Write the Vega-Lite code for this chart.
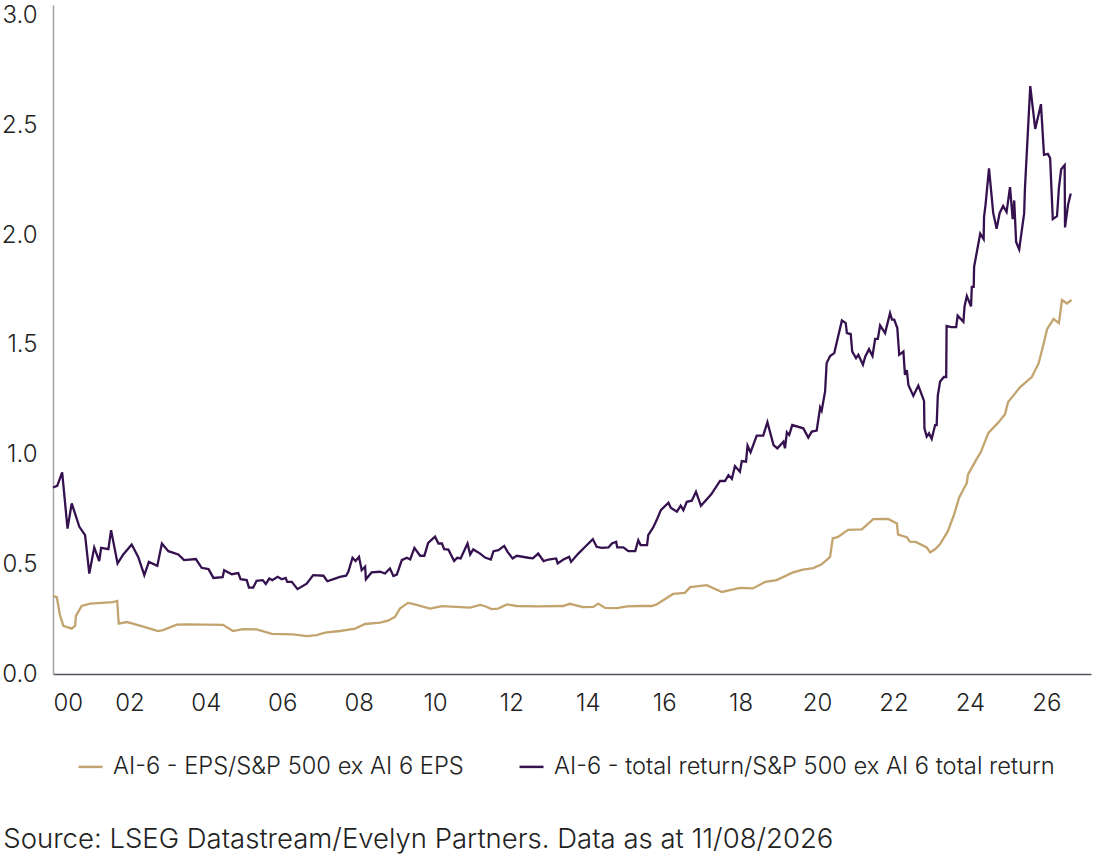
{
  "$schema": "https://vega.github.io/schema/vega-lite/v6.json",
  "width": 1038,
  "height": 669,
  "autosize": {"type": "none"},
  "padding": {"left": 53, "top": 5, "right": 2, "bottom": 182},
  "background": "white",
  "title": {
    "text": "Source: LSEG Datastream/Evelyn Partners. Data as at 11/08/2026",
    "orient": "bottom",
    "anchor": "start",
    "frame": "bounds",
    "offset": 47,
    "dx": 2,
    "font": "Inter",
    "fontSize": 27.5,
    "fontWeight": 300,
    "color": "#222222"
  },
  "datasets": {
    "eps": [
      {"t": 2000.00, "v": 0.356}, {"t": 2000.10, "v": 0.35}, {"t": 2000.18, "v": 0.27}, {"t": 2000.27, "v": 0.22},
      {"t": 2000.49, "v": 0.207}, {"t": 2000.58, "v": 0.22}, {"t": 2000.60, "v": 0.265}, {"t": 2000.75, "v": 0.31},
      {"t": 2000.97, "v": 0.321}, {"t": 2001.57, "v": 0.328}, {"t": 2001.68, "v": 0.333}, {"t": 2001.72, "v": 0.23},
      {"t": 2001.93, "v": 0.237}, {"t": 2002.09, "v": 0.23}, {"t": 2002.45, "v": 0.211}, {"t": 2002.75, "v": 0.196},
      {"t": 2002.88, "v": 0.20}, {"t": 2003.24, "v": 0.225}, {"t": 2003.50, "v": 0.226}, {"t": 2004.45, "v": 0.224},
      {"t": 2004.71, "v": 0.196}, {"t": 2004.97, "v": 0.205}, {"t": 2005.33, "v": 0.203}, {"t": 2005.73, "v": 0.183},
      {"t": 2006.28, "v": 0.181}, {"t": 2006.64, "v": 0.173}, {"t": 2006.90, "v": 0.177}, {"t": 2007.12, "v": 0.189},
      {"t": 2007.51, "v": 0.196}, {"t": 2007.91, "v": 0.207}, {"t": 2008.17, "v": 0.228}, {"t": 2008.56, "v": 0.234},
      {"t": 2008.77, "v": 0.243}, {"t": 2008.95, "v": 0.26}, {"t": 2009.08, "v": 0.298}, {"t": 2009.29, "v": 0.324},
      {"t": 2009.42, "v": 0.32}, {"t": 2009.87, "v": 0.298}, {"t": 2010.18, "v": 0.309}, {"t": 2010.92, "v": 0.303},
      {"t": 2011.18, "v": 0.315}, {"t": 2011.31, "v": 0.309}, {"t": 2011.48, "v": 0.296}, {"t": 2011.65, "v": 0.298},
      {"t": 2011.88, "v": 0.317}, {"t": 2012.14, "v": 0.31}, {"t": 2012.66, "v": 0.308}, {"t": 2013.35, "v": 0.31},
      {"t": 2013.53, "v": 0.32}, {"t": 2013.87, "v": 0.305}, {"t": 2014.14, "v": 0.306}, {"t": 2014.27, "v": 0.321},
      {"t": 2014.45, "v": 0.301}, {"t": 2014.76, "v": 0.30}, {"t": 2015.02, "v": 0.308}, {"t": 2015.37, "v": 0.31},
      {"t": 2015.67, "v": 0.31}, {"t": 2015.80, "v": 0.317}, {"t": 2016.23, "v": 0.365}, {"t": 2016.54, "v": 0.37},
      {"t": 2016.68, "v": 0.396}, {"t": 2017.11, "v": 0.405}, {"t": 2017.51, "v": 0.374}, {"t": 2017.98, "v": 0.393},
      {"t": 2018.32, "v": 0.39}, {"t": 2018.64, "v": 0.42}, {"t": 2018.94, "v": 0.428}, {"t": 2019.37, "v": 0.463},
      {"t": 2019.63, "v": 0.476}, {"t": 2019.90, "v": 0.483}, {"t": 2020.12, "v": 0.50}, {"t": 2020.34, "v": 0.534},
      {"t": 2020.41, "v": 0.618}, {"t": 2020.55, "v": 0.625}, {"t": 2020.81, "v": 0.657}, {"t": 2021.17, "v": 0.659},
      {"t": 2021.47, "v": 0.706}, {"t": 2021.86, "v": 0.707}, {"t": 2022.09, "v": 0.686}, {"t": 2022.12, "v": 0.636},
      {"t": 2022.35, "v": 0.624}, {"t": 2022.43, "v": 0.603}, {"t": 2022.58, "v": 0.602}, {"t": 2022.87, "v": 0.577},
      {"t": 2022.96, "v": 0.554}, {"t": 2023.11, "v": 0.572}, {"t": 2023.22, "v": 0.592}, {"t": 2023.42, "v": 0.65},
      {"t": 2023.59, "v": 0.729}, {"t": 2023.72, "v": 0.805}, {"t": 2023.92, "v": 0.871}, {"t": 2023.95, "v": 0.909},
      {"t": 2024.16, "v": 0.975}, {"t": 2024.29, "v": 1.013}, {"t": 2024.48, "v": 1.098}, {"t": 2024.74, "v": 1.146},
      {"t": 2024.92, "v": 1.184}, {"t": 2025.00, "v": 1.24}, {"t": 2025.31, "v": 1.307}, {"t": 2025.62, "v": 1.354},
      {"t": 2025.80, "v": 1.417}, {"t": 2025.93, "v": 1.506}, {"t": 2026.02, "v": 1.572}, {"t": 2026.19, "v": 1.619},
      {"t": 2026.33, "v": 1.60}, {"t": 2026.41, "v": 1.705}, {"t": 2026.54, "v": 1.689}, {"t": 2026.66, "v": 1.705}
    ],
    "tr": [
      {"t": 2000.00, "v": 0.85}, {"t": 2000.11, "v": 0.858}, {"t": 2000.24, "v": 0.919}, {"t": 2000.38, "v": 0.663},
      {"t": 2000.49, "v": 0.778}, {"t": 2000.69, "v": 0.671}, {"t": 2000.84, "v": 0.633}, {"t": 2000.95, "v": 0.458},
      {"t": 2001.08, "v": 0.577}, {"t": 2001.21, "v": 0.515}, {"t": 2001.26, "v": 0.575}, {"t": 2001.45, "v": 0.569},
      {"t": 2001.52, "v": 0.656}, {"t": 2001.69, "v": 0.504}, {"t": 2001.84, "v": 0.545}, {"t": 2002.06, "v": 0.59},
      {"t": 2002.23, "v": 0.534}, {"t": 2002.39, "v": 0.451}, {"t": 2002.51, "v": 0.511}, {"t": 2002.73, "v": 0.493},
      {"t": 2002.85, "v": 0.595}, {"t": 2003.02, "v": 0.56}, {"t": 2003.28, "v": 0.545}, {"t": 2003.43, "v": 0.519},
      {"t": 2003.74, "v": 0.524}, {"t": 2003.89, "v": 0.484}, {"t": 2004.07, "v": 0.478}, {"t": 2004.20, "v": 0.438},
      {"t": 2004.44, "v": 0.441}, {"t": 2004.48, "v": 0.473}, {"t": 2004.68, "v": 0.455}, {"t": 2004.85, "v": 0.46},
      {"t": 2004.91, "v": 0.432}, {"t": 2005.07, "v": 0.428}, {"t": 2005.13, "v": 0.394}, {"t": 2005.24, "v": 0.394},
      {"t": 2005.33, "v": 0.425}, {"t": 2005.49, "v": 0.428}, {"t": 2005.57, "v": 0.41}, {"t": 2005.66, "v": 0.435},
      {"t": 2005.74, "v": 0.428}, {"t": 2005.88, "v": 0.443}, {"t": 2005.99, "v": 0.432}, {"t": 2006.09, "v": 0.438},
      {"t": 2006.13, "v": 0.42}, {"t": 2006.25, "v": 0.42}, {"t": 2006.40, "v": 0.387}, {"t": 2006.64, "v": 0.412},
      {"t": 2006.81, "v": 0.451}, {"t": 2007.08, "v": 0.448}, {"t": 2007.18, "v": 0.423}, {"t": 2007.38, "v": 0.435},
      {"t": 2007.51, "v": 0.443}, {"t": 2007.67, "v": 0.448}, {"t": 2007.73, "v": 0.466}, {"t": 2007.84, "v": 0.53},
      {"t": 2007.92, "v": 0.515}, {"t": 2008.01, "v": 0.534}, {"t": 2008.08, "v": 0.473}, {"t": 2008.17, "v": 0.489},
      {"t": 2008.19, "v": 0.432}, {"t": 2008.34, "v": 0.463}, {"t": 2008.56, "v": 0.466}, {"t": 2008.69, "v": 0.458},
      {"t": 2008.82, "v": 0.481}, {"t": 2008.91, "v": 0.447}, {"t": 2009.00, "v": 0.453}, {"t": 2009.13, "v": 0.519},
      {"t": 2009.26, "v": 0.53}, {"t": 2009.35, "v": 0.522}, {"t": 2009.46, "v": 0.575}, {"t": 2009.61, "v": 0.539},
      {"t": 2009.72, "v": 0.539}, {"t": 2009.82, "v": 0.598}, {"t": 2010.00, "v": 0.626}, {"t": 2010.09, "v": 0.595},
      {"t": 2010.18, "v": 0.595}, {"t": 2010.24, "v": 0.569}, {"t": 2010.35, "v": 0.567}, {"t": 2010.50, "v": 0.515},
      {"t": 2010.58, "v": 0.53}, {"t": 2010.67, "v": 0.527}, {"t": 2010.85, "v": 0.595}, {"t": 2010.92, "v": 0.545},
      {"t": 2011.00, "v": 0.568}, {"t": 2011.18, "v": 0.549}, {"t": 2011.31, "v": 0.531}, {"t": 2011.46, "v": 0.522},
      {"t": 2011.53, "v": 0.56}, {"t": 2011.66, "v": 0.565}, {"t": 2011.81, "v": 0.584}, {"t": 2011.90, "v": 0.557},
      {"t": 2012.03, "v": 0.527}, {"t": 2012.14, "v": 0.539}, {"t": 2012.44, "v": 0.53}, {"t": 2012.56, "v": 0.527},
      {"t": 2012.70, "v": 0.549}, {"t": 2012.84, "v": 0.515}, {"t": 2012.97, "v": 0.522}, {"t": 2013.17, "v": 0.527},
      {"t": 2013.21, "v": 0.504}, {"t": 2013.36, "v": 0.522}, {"t": 2013.51, "v": 0.534}, {"t": 2013.56, "v": 0.511},
      {"t": 2013.75, "v": 0.549}, {"t": 2013.93, "v": 0.58}, {"t": 2014.13, "v": 0.615}, {"t": 2014.23, "v": 0.58},
      {"t": 2014.36, "v": 0.575}, {"t": 2014.54, "v": 0.577}, {"t": 2014.63, "v": 0.595}, {"t": 2014.74, "v": 0.603},
      {"t": 2014.77, "v": 0.577}, {"t": 2014.93, "v": 0.577}, {"t": 2015.06, "v": 0.56}, {"t": 2015.24, "v": 0.56},
      {"t": 2015.32, "v": 0.61}, {"t": 2015.38, "v": 0.588}, {"t": 2015.55, "v": 0.588}, {"t": 2015.58, "v": 0.633},
      {"t": 2015.71, "v": 0.668}, {"t": 2015.82, "v": 0.709}, {"t": 2015.91, "v": 0.747}, {"t": 2016.11, "v": 0.781},
      {"t": 2016.17, "v": 0.758}, {"t": 2016.33, "v": 0.74}, {"t": 2016.43, "v": 0.767}, {"t": 2016.50, "v": 0.747},
      {"t": 2016.59, "v": 0.785}, {"t": 2016.72, "v": 0.79}, {"t": 2016.83, "v": 0.831}, {"t": 2016.96, "v": 0.767},
      {"t": 2017.23, "v": 0.819}, {"t": 2017.46, "v": 0.88}, {"t": 2017.59, "v": 0.88}, {"t": 2017.68, "v": 0.907},
      {"t": 2017.77, "v": 0.89}, {"t": 2017.85, "v": 0.948}, {"t": 2017.98, "v": 0.922}, {"t": 2018.03, "v": 0.971},
      {"t": 2018.14, "v": 0.968}, {"t": 2018.18, "v": 1.041}, {"t": 2018.26, "v": 1.011}, {"t": 2018.42, "v": 1.087},
      {"t": 2018.59, "v": 1.087}, {"t": 2018.70, "v": 1.148}, {"t": 2018.86, "v": 1.044}, {"t": 2018.96, "v": 1.029},
      {"t": 2019.12, "v": 1.059}, {"t": 2019.16, "v": 1.029}, {"t": 2019.21, "v": 1.102}, {"t": 2019.27, "v": 1.09},
      {"t": 2019.35, "v": 1.135}, {"t": 2019.64, "v": 1.12}, {"t": 2019.77, "v": 1.078}, {"t": 2019.86, "v": 1.105},
      {"t": 2019.99, "v": 1.11}, {"t": 2020.08, "v": 1.215}, {"t": 2020.12, "v": 1.2}, {"t": 2020.21, "v": 1.288},
      {"t": 2020.25, "v": 1.417}, {"t": 2020.34, "v": 1.45}, {"t": 2020.45, "v": 1.463}, {"t": 2020.56, "v": 1.546},
      {"t": 2020.65, "v": 1.612}, {"t": 2020.75, "v": 1.60}, {"t": 2020.78, "v": 1.554}, {"t": 2020.88, "v": 1.55},
      {"t": 2020.92, "v": 1.47}, {"t": 2021.02, "v": 1.44}, {"t": 2021.08, "v": 1.455}, {"t": 2021.20, "v": 1.41},
      {"t": 2021.26, "v": 1.447}, {"t": 2021.36, "v": 1.481}, {"t": 2021.45, "v": 1.45}, {"t": 2021.52, "v": 1.528},
      {"t": 2021.59, "v": 1.528}, {"t": 2021.65, "v": 1.589}, {"t": 2021.78, "v": 1.554}, {"t": 2021.91, "v": 1.645},
      {"t": 2021.96, "v": 1.616}, {"t": 2022.02, "v": 1.616}, {"t": 2022.10, "v": 1.577}, {"t": 2022.15, "v": 1.455},
      {"t": 2022.26, "v": 1.47}, {"t": 2022.30, "v": 1.364}, {"t": 2022.35, "v": 1.385}, {"t": 2022.39, "v": 1.318},
      {"t": 2022.52, "v": 1.268}, {"t": 2022.65, "v": 1.315}, {"t": 2022.80, "v": 1.245}, {"t": 2022.81, "v": 1.12},
      {"t": 2022.87, "v": 1.082}, {"t": 2022.93, "v": 1.097}, {"t": 2023.00, "v": 1.072}, {"t": 2023.09, "v": 1.135},
      {"t": 2023.13, "v": 1.135}, {"t": 2023.16, "v": 1.269}, {"t": 2023.22, "v": 1.333}, {"t": 2023.32, "v": 1.354},
      {"t": 2023.38, "v": 1.354}, {"t": 2023.39, "v": 1.587}, {"t": 2023.51, "v": 1.581}, {"t": 2023.64, "v": 1.581},
      {"t": 2023.68, "v": 1.634}, {"t": 2023.83, "v": 1.606}, {"t": 2023.86, "v": 1.676}, {"t": 2023.92, "v": 1.723},
      {"t": 2024.03, "v": 1.676}, {"t": 2024.05, "v": 1.765}, {"t": 2024.10, "v": 1.765}, {"t": 2024.11, "v": 1.856},
      {"t": 2024.27, "v": 2.008}, {"t": 2024.36, "v": 1.983}, {"t": 2024.37, "v": 2.083}, {"t": 2024.41, "v": 2.14},
      {"t": 2024.50, "v": 2.305}, {"t": 2024.61, "v": 2.102}, {"t": 2024.70, "v": 2.03}, {"t": 2024.78, "v": 2.102},
      {"t": 2024.87, "v": 2.134}, {"t": 2024.96, "v": 2.106}, {"t": 2025.05, "v": 2.22}, {"t": 2025.12, "v": 2.074},
      {"t": 2025.16, "v": 2.159}, {"t": 2025.21, "v": 1.97}, {"t": 2025.29, "v": 1.936}, {"t": 2025.42, "v": 2.10},
      {"t": 2025.44, "v": 2.21}, {"t": 2025.58, "v": 2.68}, {"t": 2025.71, "v": 2.485}, {"t": 2025.86, "v": 2.598},
      {"t": 2025.94, "v": 2.367}, {"t": 2026.04, "v": 2.371}, {"t": 2026.10, "v": 2.352}, {"t": 2026.17, "v": 2.074},
      {"t": 2026.28, "v": 2.087}, {"t": 2026.33, "v": 2.216}, {"t": 2026.39, "v": 2.301}, {"t": 2026.48, "v": 2.32},
      {"t": 2026.49, "v": 2.036}, {"t": 2026.57, "v": 2.14}, {"t": 2026.64, "v": 2.191}
    ]
  },
  "encoding": {
    "x": {
      "field": "t",
      "type": "quantitative",
      "title": null,
      "scale": {"domain": [2000, 2027.17], "nice": false, "zero": false},
      "axis": {
        "values": [2000, 2002, 2004, 2006, 2008, 2010, 2012, 2014, 2016, 2018, 2020, 2022, 2024, 2026],
        "labelExpr": "slice(toString(datum.value), 2)",
        "grid": false,
        "ticks": false,
        "tickSize": 0,
        "domainColor": "#55535e",
        "domainWidth": 1.5,
        "labelPadding": 17
      }
    },
    "y": {
      "field": "v",
      "type": "quantitative",
      "title": null,
      "scale": {"domain": [0, 3.05], "nice": false},
      "axis": {
        "values": [0, 0.5, 1, 1.5, 2, 2.5, 3],
        "format": ".1f",
        "grid": false,
        "ticks": false,
        "tickSize": 0,
        "domainColor": "#a3a3a8",
        "domainWidth": 1.5,
        "labelPadding": 16
      }
    }
  },
  "layer": [
    {
      "data": {"name": "eps"},
      "mark": {"type": "line", "strokeWidth": 2.3},
      "encoding": {
        "color": {
          "datum": "AI-6 - EPS/S&P 500 ex AI 6 EPS",
          "type": "nominal",
          "scale": {
            "domain": ["AI-6 - EPS/S&P 500 ex AI 6 EPS", "AI-6 - total return/S&P 500 ex AI 6 total return"],
            "range": ["#c3a46e", "#35124f"]
          },
          "legend": {
            "title": null,
            "orient": "none",
            "legendX": 24,
            "legendY": 748,
            "direction": "horizontal",
            "symbolType": "stroke",
            "symbolSize": 576,
            "symbolStrokeWidth": 2.5,
            "labelOffset": 9,
            "columnPadding": 50
          }
        }
      }
    },
    {
      "data": {"name": "tr"},
      "mark": {"type": "line", "strokeWidth": 2.3},
      "encoding": {
        "color": {"datum": "AI-6 - total return/S&P 500 ex AI 6 total return", "type": "nominal"}
      }
    }
  ],
  "config": {
    "view": {"stroke": null},
    "axis": {
      "labelFont": "Inter",
      "labelFontSize": 24,
      "labelFontWeight": 300,
      "labelColor": "#222222"
    },
    "legend": {
      "labelFont": "Inter",
      "labelFontSize": 23.7,
      "labelFontWeight": 300,
      "labelColor": "#222222",
      "labelLimit": 800
    }
  }
}
